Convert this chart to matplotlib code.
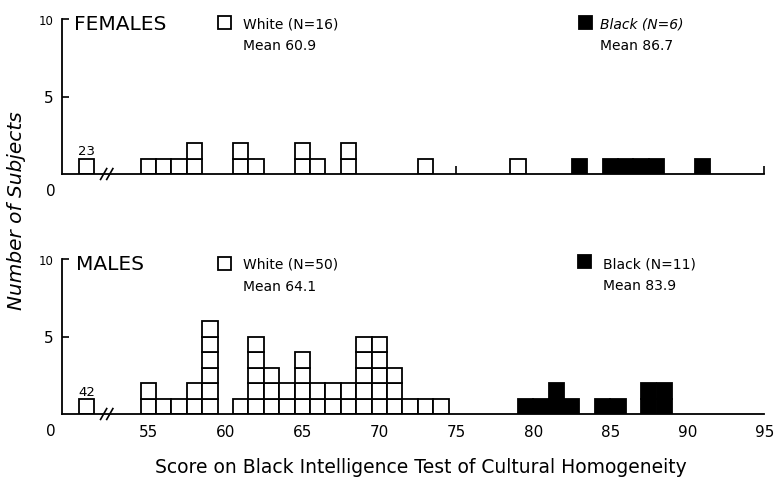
import matplotlib.pyplot as plt
import numpy as np
from matplotlib.patches import Rectangle

W, H = 775, 481

# scores are bin centres, counts are number of subjects in each bin
female_white_scores = [55, 56, 57, 58, 61, 62, 65, 66, 68, 73, 79]
female_white_counts = [1, 1, 1, 2, 2, 1, 2, 1, 2, 1, 1]
female_black_scores = [83, 85, 86, 87, 88, 91]
female_black_counts = [1, 1, 1, 1, 1, 1]
female_outlier = 23

male_white_scores = [55, 56, 57, 58, 59, 61, 62, 63, 64, 65, 66, 67, 68, 69, 70, 71, 72, 73, 74]
male_white_counts = [2, 1, 1, 2, 6, 1, 5, 3, 2, 4, 2, 2, 2, 5, 5, 3, 1, 1, 1]
male_black_scores = [79, 80, 81, 82, 84, 85, 87, 88]
male_black_counts = [1, 1, 2, 1, 1, 1, 2, 2]
male_outlier = 42

female_labels = ['White (N=16)', 'Mean 60.9', 'Black (N=6)', 'Mean 86.7']
male_labels = ['White (N=50)', 'Mean 64.1', 'Black (N=11)', 'Mean 83.9']

x_ticks = [55, 60, 65, 70, 75, 80, 85, 90, 95]
y_ticks = [5, 10]

OUTLIER_POS = 51   # where the off-scale subject is drawn, left of the break
AXIS_X = 49.4


def fpos(x, y):
    # pixel position (from top left) to figure fraction
    return x / W, 1 - y / H


def draw_cells(ax, scores, counts, face, align='center'):
    x = np.repeat(scores, counts)
    bottoms = np.concatenate([np.arange(c) for c in counts])
    ax.bar(x, 1, bottom=bottoms, width=1, align=align, facecolor=face,
           edgecolor='black', linewidth=1.3)


def setup_panel(ax, marks):
    ax.set_xlim(48, 95.5)
    ax.set_ylim(0, 10.6)
    ax.patch.set_visible(False)
    for s in ['top', 'right']:
        ax.spines[s].set_visible(False)
    ax.spines['left'].set_position(('data', AXIS_X))
    ax.spines['left'].set_bounds(0, 10)
    ax.spines['bottom'].set_bounds(AXIS_X, 95)
    for s in ['left', 'bottom']:
        ax.spines[s].set_linewidth(1.3)

    ax.set_yticks(y_ticks)
    ax.set_yticklabels([str(t) for t in y_ticks])
    ax.get_yticklabels()[0].set_fontsize(11)
    ax.get_yticklabels()[1].set_fontsize(8.5)
    ax.tick_params(axis='y', direction='in', length=5, width=1.2, pad=6)

    ax.set_xticks(marks, minor=True)
    ax.tick_params(axis='x', which='minor', direction='in', length=6, width=1.2)

    # zero label sits below the baseline
    ax.text(48.7, -1.05, '0', ha='center', va='center', fontsize=11, clip_on=False)

    # axis break
    for bx in [52.1, 52.5]:
        ax.plot([bx - 0.2, bx + 0.2], [-0.35, 0.35], color='black', lw=1.2, clip_on=False)


def legend_block(x_box, y_box, x_text, y_text, face, lines, italic=False):
    bx, by = fpos(x_box, y_box + 13)
    fig.patches.append(Rectangle((bx, by), 13 / W, 13 / H, transform=fig.transFigure,
                                 facecolor=face, edgecolor='black', linewidth=1.3))
    tx, ty = fpos(x_text, y_text)
    fig.text(tx, ty, lines[0], ha='left', va='center', fontsize=10,
             style='italic' if italic else 'normal')
    tx, ty = fpos(x_text, y_text + 22)
    fig.text(tx, ty, lines[1], ha='left', va='center', fontsize=10)


fig = plt.figure(figsize=(W / 100, H / 100), dpi=100)

left = 40.5 / W
width = 731.5 / W
height = 10.6 * 15.5 / H
ax_top = fig.add_axes([left, (H - 175) / H, width, height])
ax_bot = fig.add_axes([left, (H - 415) / H, width, height])

# females
draw_cells(ax_top, female_white_scores, female_white_counts, 'white')
draw_cells(ax_top, female_black_scores, female_black_counts, 'black')
draw_cells(ax_top, [OUTLIER_POS], [1], 'white')
ax_top.text(OUTLIER_POS, 1.5, str(female_outlier), ha='center', va='center', fontsize=9.5)
setup_panel(ax_top, [75, 95])
ax_top.set_xticks([])

# males
draw_cells(ax_bot, male_white_scores, male_white_counts, 'white')
draw_cells(ax_bot, male_black_scores, male_black_counts, 'black', align='edge')
draw_cells(ax_bot, [OUTLIER_POS], [1], 'white')
ax_bot.text(OUTLIER_POS, 1.45, str(male_outlier), ha='center', va='center', fontsize=9.5)
setup_panel(ax_bot, [90, 95])
ax_bot.set_xticks(x_ticks)
ax_bot.tick_params(axis='x', which='major', length=0, pad=7, labelsize=11)

# panel titles and legends
fig.text(*fpos(74, 24), 'FEMALES', ha='left', va='center', fontsize=14.5)
fig.text(*fpos(76, 265), 'MALES', ha='left', va='center', fontsize=14.5)
legend_block(218, 17, 243, 24, 'white', female_labels[:2])
legend_block(579, 17, 600, 24, 'black', female_labels[2:], italic=True)
legend_block(218, 258, 243, 265, 'white', male_labels[:2])
legend_block(578, 256, 603, 264, 'black', male_labels[2:])

fig.text(*fpos(17, 211), 'Number of Subjects', rotation=90, ha='center', va='center',
         fontsize=14.5, style='italic')
fig.text(*fpos(421, 468), 'Score on Black Intelligence Test of Cultural Homogeneity',
         ha='center', va='center', fontsize=13.5)

fig.savefig('out.png', dpi=100)
